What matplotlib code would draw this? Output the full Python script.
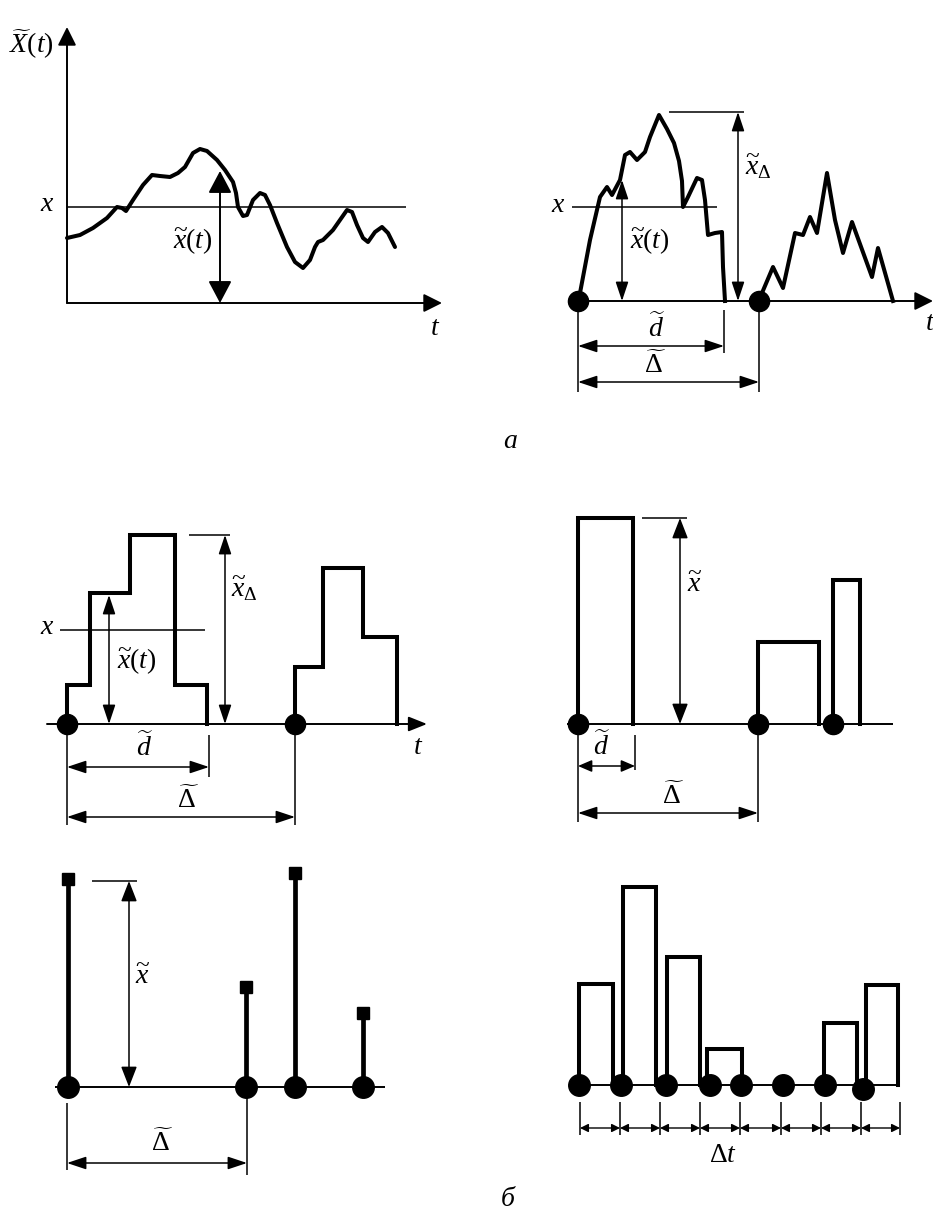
import numpy as np
import matplotlib.pyplot as plt
from matplotlib.patches import FancyArrowPatch

plt.rcParams['font.family'] = 'Liberation Serif'
plt.rcParams['mathtext.fontset'] = 'custom'
plt.rcParams['mathtext.rm'] = 'Liberation Serif'
plt.rcParams['mathtext.it'] = 'Liberation Serif:italic'
plt.rcParams['mathtext.bf'] = 'Liberation Serif:bold'

# --- a, слева: непрерывная реализация X(t)
t_a1 = [0, 13, 26, 40, 50, 55, 59, 66, 76, 85, 93, 103, 111, 118, 126, 133, 140, 150,
        158, 166, 169, 171, 176, 180, 186, 193, 198, 203, 210, 220, 228, 236, 243,
        248, 251, 256, 266, 280, 285, 290, 296, 301, 308, 315, 321, 328]
x_a1 = [65, 68, 75, 85, 96, 95, 92, 103, 118, 128, 127, 126, 130, 136, 150, 154, 152, 143,
        133, 121, 110, 96, 87, 88, 103, 110, 108, 98, 80, 56, 41, 35, 43,
        56, 61, 63, 73, 93, 91, 78, 65, 61, 71, 76, 70, 56]
level_a1 = 96
xt_a1 = (153, 132)          # t, значение для стрелки x~(t)

# --- a, справа: выбросы над уровнем
t_a2_1 = [0, 2, 12, 22, 29, 34, 42, 47, 52, 59, 67, 72, 81, 89, 96, 101, 104, 105,
          110, 119, 124, 127, 130, 137, 144, 145, 147]
x_a2_1 = [0, 8, 61, 104, 114, 106, 121, 146, 149, 141, 149, 164, 186, 172, 158, 140, 120, 94,
          104, 123, 121, 101, 66, 68, 69, 34, 0]
t_a2_2 = [181, 184, 195, 205, 217, 225, 232, 239, 249, 257, 265, 274, 294, 300, 315]
x_a2_2 = [0, 8, 34, 13, 68, 66, 84, 68, 128, 81, 48, 79, 24, 53, 0]
level_a2 = 94
peak_a2 = 189
xt_a2 = (44, 121)
d_a2, D_a2 = 146, 181

# --- б, сверху слева: ступенчатая реализация
t_b1_1 = [0, 0, 23, 23, 63, 63, 108, 108, 140, 140]
x_b1_1 = [0, 39, 39, 131, 131, 189, 189, 39, 39, 0]
t_b1_2 = [228, 228, 256, 256, 296, 296, 330, 330]
x_b1_2 = [0, 57, 57, 156, 156, 87, 87, 0]
level_b1 = 94
peak_b1 = 189
xt_b1 = (42, 129)
d_b1, D_b1 = 142, 228

# --- б, сверху справа: прямоугольные импульсы
rect_b2_left = [0, 180, 255]
rect_b2_right = [55, 241, 282]
rect_b2_height = [206, 82, 144]
d_b2, D_b2 = 57, 180

# --- б, снизу слева: мгновенные импульсы
stem_b3_t = [0, 178, 227, 295]
stem_b3_h = [208, 100, 214, 74]
peak_b3 = 206
D_b3 = 179

# --- б, снизу справа: дискретизация с шагом Δt
dots_b4_t = [0, 42, 87, 131, 162, 204, 246, 284]
dots_b4_v = [0, 0, 0, 0, 0, 0, 0, -4]
rect_b4_left = [0, 44, 88, 128, 245, 287]
rect_b4_right = [34, 77, 121, 163, 278, 319]
rect_b4_height = [101, 198, 128, 36, 62, 100]
ticks_b4 = [1, 41, 81, 121, 161, 202, 242, 282, 321]

W, H = 933, 1217
fig = plt.figure(figsize=(W / 100, H / 100), dpi=100)
fig.patch.set_facecolor('white')


def panel(ox, oy):
    ax = fig.add_axes([0, 0, 1, 1])
    ax.set_xlim(-ox, W - ox)
    ax.set_ylim(oy - H, oy)
    ax.axis('off')
    return ax


def arrow(ax, p0, p1, style='<|-|>', hl=0.9, hw=0.32, ms=13, lw=1.1):
    ax.add_patch(FancyArrowPatch(p0, p1, arrowstyle=f'{style},head_length={hl},head_width={hw}',
                                 mutation_scale=ms, lw=lw, color='k',
                                 shrinkA=0, shrinkB=0, clip_on=False))


def txt(ax, t, v, s, fs=20, **kw):
    ax.text(t, v, s, fontsize=fs, ha='center', va='center', clip_on=False, **kw)


def line(ax, t, v, lw=1.1):
    ax.plot(t, v, color='k', lw=lw, solid_capstyle='butt', solid_joinstyle='miter', clip_on=False)


TH = 2.9   # толстая линия
DOT = 14.5
FS = 20

# ===== a, слева
ax = panel(67, 303)
arrow(ax, (0, 0), (0, 276), style='-|>', hl=0.8, hw=0.4, ms=14, lw=1.4)
arrow(ax, (0, 0), (375, 0), style='-|>', hl=0.8, hw=0.4, ms=14, lw=1.4)
line(ax, [0, 339], [level_a1, level_a1])
ax.plot(t_a1, x_a1, color='k', lw=TH, solid_joinstyle='round', solid_capstyle='round')
arrow(ax, (xt_a1[0], 0), (xt_a1[0], xt_a1[1]), hl=0.85, hw=0.45, ms=16, lw=1.4)
txt(ax, -36, 259, r'$\widetilde{X}(t)$', fs=FS)
txt(ax, -20, 99, r'$x$')
txt(ax, 368, -25, r'$t$')
txt(ax, 126, 61, r'$\widetilde{x}(t)$')

# ===== a, справа
ax = panel(578, 301)
arrow(ax, (0, 0), (355, 0), style='-|>', hl=0.8, hw=0.4, ms=14, lw=1.4)
line(ax, [-6, 139], [level_a2, level_a2])
ax.plot(t_a2_1, x_a2_1, color='k', lw=TH, solid_joinstyle='round')
ax.plot(t_a2_2, x_a2_2, color='k', lw=TH, solid_joinstyle='round')
ax.plot([0, D_a2], [0, 0], 'o', ms=DOT, color='k', zorder=5)
line(ax, [91, 166], [peak_a2, peak_a2])
arrow(ax, (160, 0), (160, peak_a2), hl=0.9, hw=0.3, ms=13)
arrow(ax, (xt_a2[0], 0), (xt_a2[0], xt_a2[1]), hl=0.9, hw=0.3, ms=13)
line(ax, [0, 0], [0, -91])
line(ax, [D_a2, D_a2], [0, -91])
line(ax, [d_a2, d_a2], [-9, -52])
arrow(ax, (0, -45), (d_a2, -45), hl=0.9, hw=0.3, ms=13)
arrow(ax, (0, -81), (D_a2, -81), hl=0.9, hw=0.3, ms=13)
txt(ax, -20, 96, r'$x$')
txt(ax, 352, -22, r'$t$')
txt(ax, 180, 134, r'$\widetilde{x}_{\Delta}$')
txt(ax, 72, 59, r'$\widetilde{x}(t)$')
txt(ax, 79, -27, r'$\widetilde{d}$')
txt(ax, 77, -64, r'$\widetilde{\Delta}$')

fig.text(510 / W, 1 - 441 / H, 'а', fontsize=FS, style='italic', ha='center', va='center')

# ===== б, сверху слева
ax = panel(67, 724)
arrow(ax, (-20, 0), (360, 0), style='-|>', hl=0.8, hw=0.32, ms=14, lw=1.4)
line(ax, [-7, 138], [level_b1, level_b1])
ax.plot(t_b1_1, x_b1_1, color='k', lw=TH, solid_joinstyle='miter')
ax.plot(t_b1_2, x_b1_2, color='k', lw=TH, solid_joinstyle='miter')
ax.plot([0, D_b1], [0, 0], 'o', ms=DOT, color='k', zorder=5)
line(ax, [122, 163], [peak_b1, peak_b1])
arrow(ax, (158, 0), (158, peak_b1), hl=0.9, hw=0.3, ms=13)
arrow(ax, (xt_b1[0], 0), (xt_b1[0], xt_b1[1]), hl=0.9, hw=0.3, ms=13)
line(ax, [0, 0], [0, -101])
line(ax, [D_b1, D_b1], [0, -101])
line(ax, [d_b1, d_b1], [-11, -53])
arrow(ax, (0, -43), (d_b1, -43), hl=0.9, hw=0.3, ms=13)
arrow(ax, (0, -93), (D_b1, -93), hl=0.9, hw=0.3, ms=13)
txt(ax, -20, 96, r'$x$')
txt(ax, 351, -24, r'$t$')
txt(ax, 177, 135, r'$\widetilde{x}_{\Delta}$')
txt(ax, 70, 62, r'$\widetilde{x}(t)$')
txt(ax, 78, -23, r'$\widetilde{d}$')
txt(ax, 121, -76, r'$\widetilde{\Delta}$')

# ===== б, сверху справа
ax = panel(578, 724)
line(ax, [-11, 315], [0, 0], lw=1.4)
for l, r, h in zip(rect_b2_left, rect_b2_right, rect_b2_height):
    ax.plot([l, l, r, r], [0, h, h, 0], color='k', lw=TH, solid_joinstyle='miter')
ax.plot(rect_b2_left, np.zeros(len(rect_b2_left)), 'o', ms=DOT, color='k', zorder=5)
line(ax, [64, 109], [rect_b2_height[0], rect_b2_height[0]])
arrow(ax, (102, 0), (102, rect_b2_height[0]), hl=0.9, hw=0.35, ms=14)
line(ax, [0, 0], [0, -98])
line(ax, [D_b2, D_b2], [0, -98])
line(ax, [d_b2, d_b2], [-11, -46])
arrow(ax, (0, -42), (d_b2, -42), hl=0.7, hw=0.3, ms=12)
arrow(ax, (0, -89), (D_b2, -89), hl=0.9, hw=0.3, ms=13)
txt(ax, 117, 138, r'$\widetilde{x}$')
txt(ax, 24, -22, r'$\widetilde{d}$')
txt(ax, 95, -72, r'$\widetilde{\Delta}$')

# ===== б, снизу слева
ax = panel(68, 1087)
line(ax, [-13, 317], [0, 0], lw=1.4)
for tt, hh in zip(stem_b3_t, stem_b3_h):
    ax.plot([tt, tt], [0, hh], color='k', lw=3.4, solid_capstyle='butt')
ax.plot(stem_b3_t, stem_b3_h, 's', ms=8.5, color='k')
ax.plot(stem_b3_t, np.zeros(len(stem_b3_t)), 'o', ms=DOT + 1, color='k', zorder=5)
line(ax, [24, 69], [peak_b3, peak_b3])
arrow(ax, (61, 0), (61, peak_b3), hl=0.9, hw=0.35, ms=14)
line(ax, [-1, -1], [-16, -83])
line(ax, [D_b3, D_b3], [0, -88])
arrow(ax, (-1, -76), (D_b3, -76), hl=0.9, hw=0.3, ms=13)
txt(ax, 75, 110, r'$\widetilde{x}$')
txt(ax, 94, -56, r'$\widetilde{\Delta}$')

# ===== б, снизу справа
ax = panel(579, 1085)
line(ax, [-9, 319], [0, 0], lw=1.4)
for l, r, h in zip(rect_b4_left, rect_b4_right, rect_b4_height):
    ax.plot([l, l, r, r], [0, h, h, 0], color='k', lw=TH, solid_joinstyle='miter')
ax.plot(dots_b4_t, dots_b4_v, 'o', ms=DOT + 1, color='k', zorder=5)
for tk in ticks_b4:
    line(ax, [tk, tk], [-17, -50])
for a, b in zip(ticks_b4[:-1], ticks_b4[1:]):
    arrow(ax, (a, -43), (b, -43), hl=0.7, hw=0.35, ms=7, lw=1.0)
txt(ax, 144, -70, r'$\Delta t$')

fig.text(508 / W, 1 - 1200 / H, 'б', fontsize=FS, style='italic', ha='center', va='center')

fig.savefig('out.png', dpi=100, facecolor='white')
